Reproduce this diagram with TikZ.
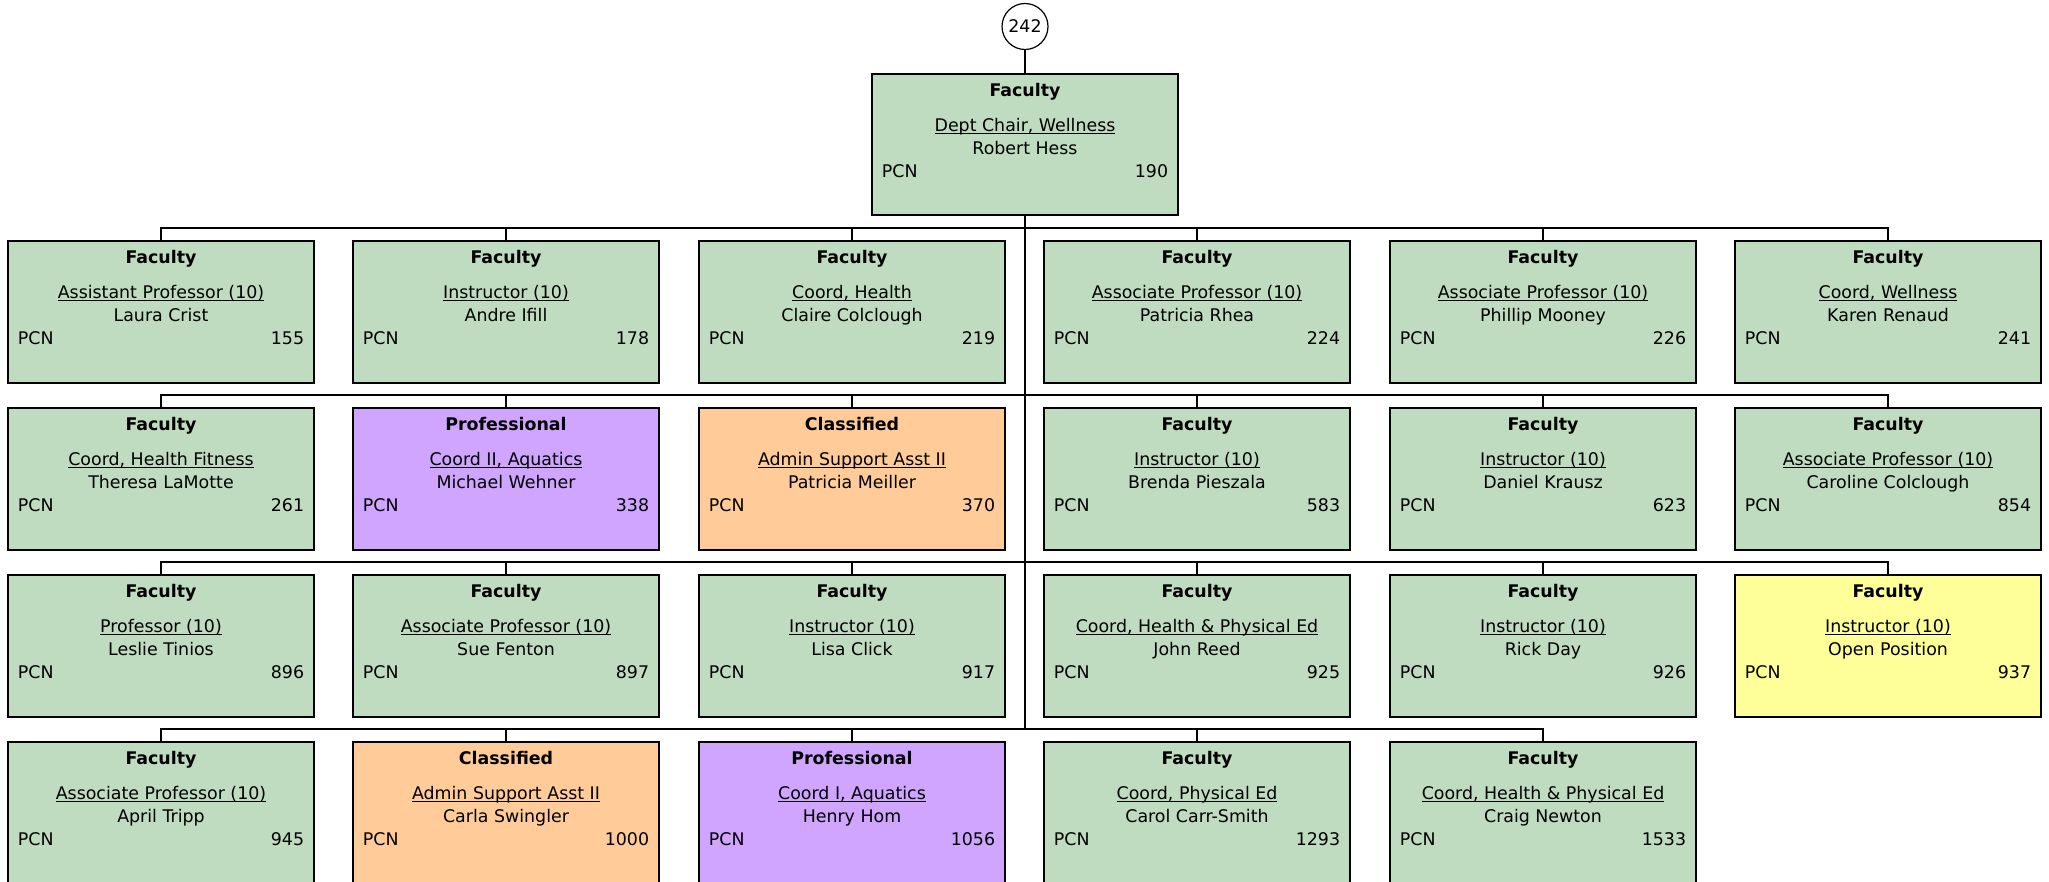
\documentclass[tikz,border=0pt]{standalone}
\usepackage{fontspec}
\setmainfont{DejaVu Sans}
\usetikzlibrary{calc}

\definecolor{faculty}{RGB}{192,220,192}
\definecolor{professional}{RGB}{207,165,255}
\definecolor{classified}{RGB}{255,204,153}
\definecolor{openpos}{RGB}{255,255,153}

\newcommand{\titleline}[1]{\setbox0\hbox{#1}\rlap{\rule[-1.1pt]{\wd0}{0.5pt}}\box0}

% name, centre x, top y, fill, group, title, holder, pcn
\newcommand{\posnode}[8]{%
  \node[posbox, fill=#4, anchor=north] (#1) at (#2,#3) {};
  \node[txt] at ($(#1.north)+(0,22.5)$) {\bfseries #5};
  \node[txt] at ($(#1.north)+(0,57.5)$) {\titleline{#6}};
  \node[txt] at ($(#1.north)+(0,80.5)$) {#7};
  \node[txt, anchor=base west] at ($(#1.north west)+(9.5,103.5)$) {PCN};
  \node[txt, anchor=base east] at ($(#1.north east)+(-9.5,103.5)$) {#8};
}

\tikzset{
  posbox/.style={draw, line width=1pt, outer sep=0pt,
    minimum width=153pt, minimum height=70.75pt},
  txt/.style={inner sep=0pt, anchor=base, font=\fontsize{8.7}{10}\selectfont},
  link/.style={line width=0.8pt}
}

\begin{document}
\begin{tikzpicture}[x=0.5pt, y=-0.5pt]
    \useasboundingbox (0,0) rectangle (2049,882);

    \node[circle, draw, line width=0.6pt, minimum size=23pt, inner sep=0pt,
      font=\fontsize{8.7}{10}\selectfont] (count) at (1025,26.5) {242};
    \posnode{root}{1025}{74}{faculty}{Faculty}{Dept Chair, Wellness}{Robert Hess}{190}
    \draw[link] (count.south) -- (root.north);

    % first row
    \posnode{p155}{161}{241}{faculty}{Faculty}{Assistant Professor (10)}{Laura Crist}{155}
    \posnode{p178}{506}{241}{faculty}{Faculty}{Instructor (10)}{Andre Ifill}{178}
    \posnode{p219}{852}{241}{faculty}{Faculty}{Coord, Health}{Claire Colclough}{219}
    \posnode{p224}{1197}{241}{faculty}{Faculty}{Associate Professor (10)}{Patricia Rhea}{224}
    \posnode{p226}{1543}{241}{faculty}{Faculty}{Associate Professor (10)}{Phillip Mooney}{226}
    \posnode{p241}{1888}{241}{faculty}{Faculty}{Coord, Wellness}{Karen Renaud}{241}

    % second row
    \posnode{p261}{161}{408}{faculty}{Faculty}{Coord, Health Fitness}{Theresa LaMotte}{261}
    \posnode{p338}{506}{408}{professional}{Professional}{Coord II, Aquatics}{Michael Wehner}{338}
    \posnode{p370}{852}{408}{classified}{Classified}{Admin Support Asst II}{Patricia Meiller}{370}
    \posnode{p583}{1197}{408}{faculty}{Faculty}{Instructor (10)}{Brenda Pieszala}{583}
    \posnode{p623}{1543}{408}{faculty}{Faculty}{Instructor (10)}{Daniel Krausz}{623}
    \posnode{p854}{1888}{408}{faculty}{Faculty}{Associate Professor (10)}{Caroline Colclough}{854}

    % third row
    \posnode{p896}{161}{575}{faculty}{Faculty}{Professor (10)}{Leslie Tinios}{896}
    \posnode{p897}{506}{575}{faculty}{Faculty}{Associate Professor (10)}{Sue Fenton}{897}
    \posnode{p917}{852}{575}{faculty}{Faculty}{Instructor (10)}{Lisa Click}{917}
    \posnode{p925}{1197}{575}{faculty}{Faculty}{Coord, Health \& Physical Ed}{John Reed}{925}
    \posnode{p926}{1543}{575}{faculty}{Faculty}{Instructor (10)}{Rick Day}{926}
    \posnode{p937}{1888}{575}{openpos}{Faculty}{Instructor (10)}{Open Position}{937}

    % fourth row
    \posnode{p945}{161}{742}{faculty}{Faculty}{Associate Professor (10)}{April Tripp}{945}
    \posnode{p1000}{506}{742}{classified}{Classified}{Admin Support Asst II}{Carla Swingler}{1000}
    \posnode{p1056}{852}{742}{professional}{Professional}{Coord I, Aquatics}{Henry Hom}{1056}
    \posnode{p1293}{1197}{742}{faculty}{Faculty}{Coord, Physical Ed}{Carol Carr-Smith}{1293}
    \posnode{p1533}{1543}{742}{faculty}{Faculty}{Coord, Health \& Physical Ed}{Craig Newton}{1533}

    % buses
    \coordinate (bus1) at (0,228);
    \coordinate (bus2) at (0,395);
    \coordinate (bus3) at (0,562);
    \coordinate (bus4) at (0,729);
    \foreach \n in {p155,p178,p219,p224,p226,p241}
      \draw[link] (root.south) |- (bus1 -| \n.north) -- (\n.north);
    \foreach \n in {p261,p338,p370,p583,p623,p854}
      \draw[link] (root.south) |- (bus2 -| \n.north) -- (\n.north);
    \foreach \n in {p896,p897,p917,p925,p926,p937}
      \draw[link] (root.south) |- (bus3 -| \n.north) -- (\n.north);
    \foreach \n in {p945,p1000,p1056,p1293,p1533}
      \draw[link] (root.south) |- (bus4 -| \n.north) -- (\n.north);
  \end{tikzpicture}
\end{document}
